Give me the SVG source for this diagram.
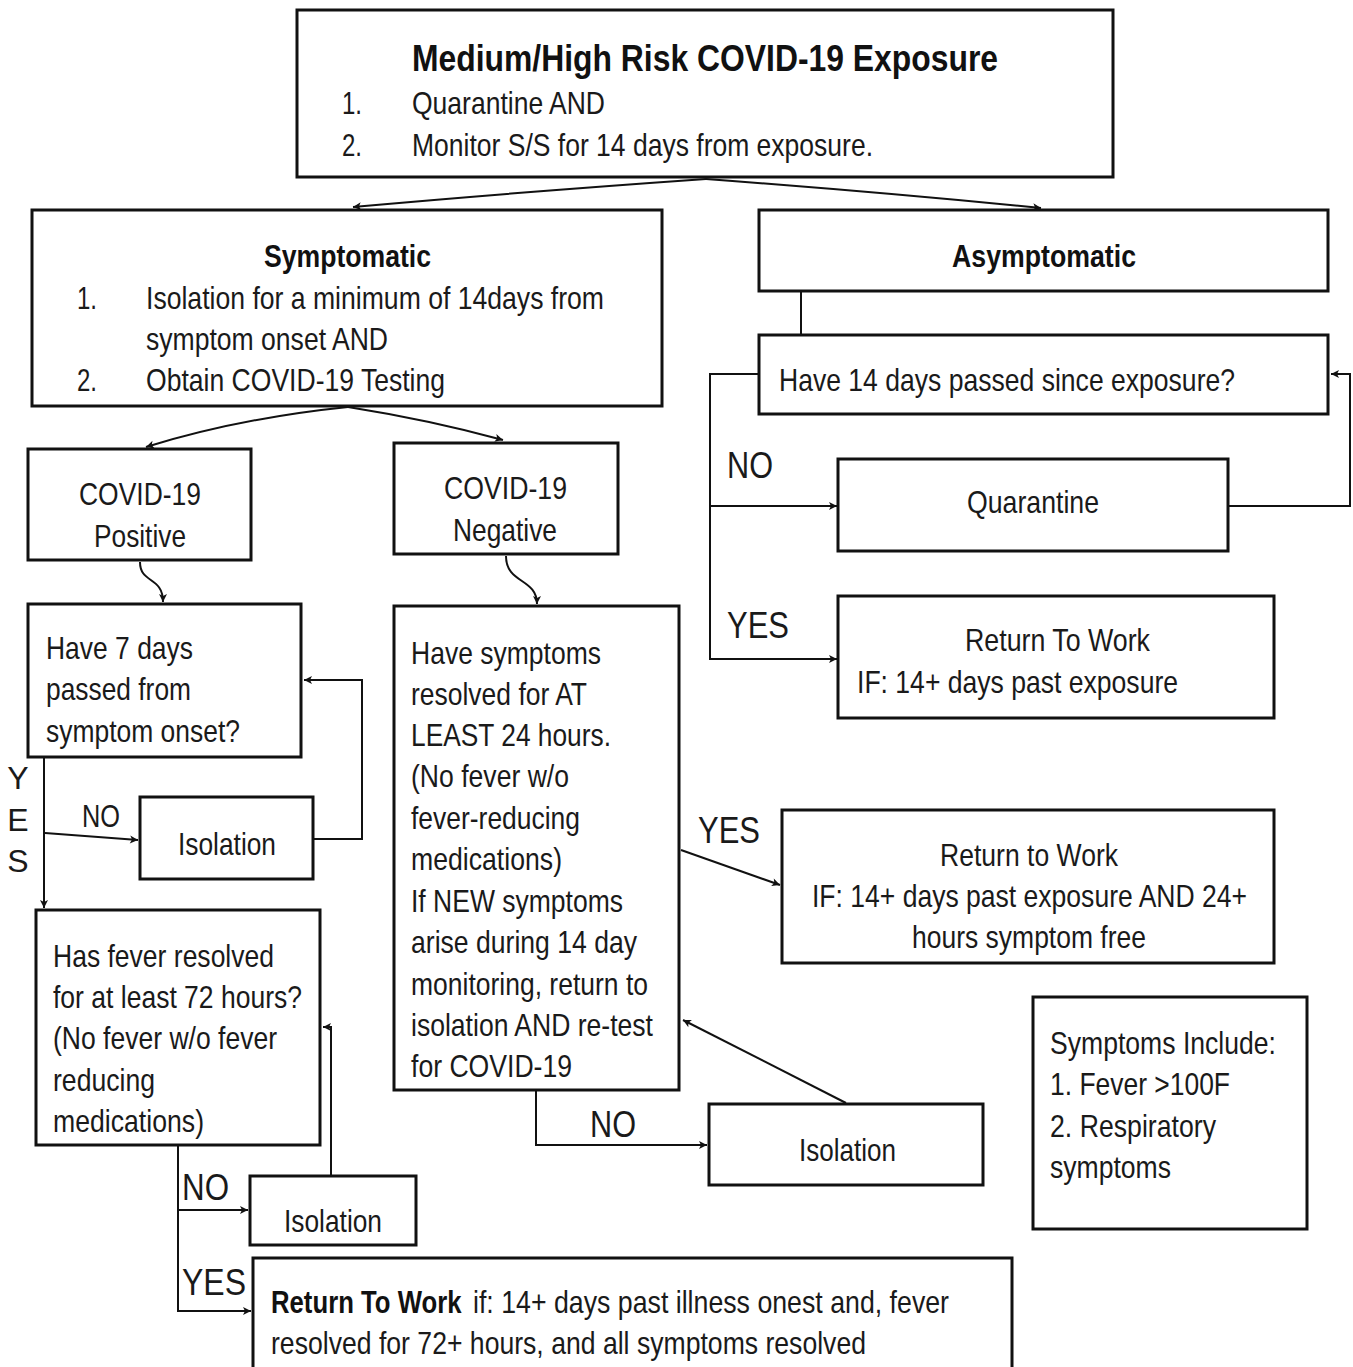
<svg xmlns="http://www.w3.org/2000/svg" width="1353" height="1367" viewBox="0 0 1353 1367">
<style>
.box{fill:#fff;stroke:#111;stroke-width:3}
.c{fill:none;stroke:#111;stroke-width:2}
.t{font-family:"Liberation Sans",Arial,sans-serif;font-size:32px;fill:#1a1a1a}
.b{font-weight:bold;fill:#111}
.l{font-size:36px}
</style>
<defs>
<marker id="ah" markerWidth="10" markerHeight="10" refX="9" refY="5" orient="auto" markerUnits="userSpaceOnUse">
<path d="M1,1 L9,5 L1,9 L3,5 Z" fill="#111"/>
</marker>
</defs>
<rect width="1353" height="1367" fill="#fff"/>

<g id="connectors">
<path class="c" d="M706,179 Q520,192 353,207" marker-end="url(#ah)"/>
<path class="c" d="M706,179 Q880,192 1041,208" marker-end="url(#ah)"/>
<path class="c" d="M348,407 Q240,418 146,447" marker-end="url(#ah)"/>
<path class="c" d="M348,407 Q430,420 503,440" marker-end="url(#ah)"/>
<path class="c" d="M140,562 C140,584 163,576 163,602" marker-end="url(#ah)"/>
<path class="c" d="M506,556 C506,584 537,578 537,604" marker-end="url(#ah)"/>
<path class="c" d="M801,292 L801,334"/>
<path class="c" d="M758,374 L710,374 L710,659 L837,659" marker-end="url(#ah)"/>
<path class="c" d="M710,506 L837,506" marker-end="url(#ah)"/>
<path class="c" d="M1229,506 L1350,506 L1350,374 L1331,374" marker-end="url(#ah)"/>
<path class="c" d="M44,758 L44,908" marker-end="url(#ah)"/>
<path class="c" d="M45,833 L138,840" marker-end="url(#ah)"/>
<path class="c" d="M314,839 L362,839 L362,680 L304,680" marker-end="url(#ah)"/>
<path class="c" d="M178,1146 L178,1311 L251,1311" marker-end="url(#ah)"/>
<path class="c" d="M178,1210 L248,1210" marker-end="url(#ah)"/>
<path class="c" d="M331,1175 L331,1027 L323,1027" marker-end="url(#ah)"/>
<path class="c" d="M681,850 L780,885" marker-end="url(#ah)"/>
<path class="c" d="M846,1103 L683,1020" marker-end="url(#ah)"/>
<path class="c" d="M536,1091 L536,1145 L707,1145" marker-end="url(#ah)"/>
</g>

<g id="exposure">
<rect class="box" x="297" y="10" width="816" height="167"/>
<text class="t b l" x="412" y="71" textLength="586" lengthAdjust="spacingAndGlyphs">Medium/High Risk COVID-19 Exposure</text>
<text class="t" x="342" y="114" textLength="20" lengthAdjust="spacingAndGlyphs">1.</text>
<text class="t" x="412" y="114" textLength="193" lengthAdjust="spacingAndGlyphs">Quarantine AND</text>
<text class="t" x="342" y="156" textLength="20" lengthAdjust="spacingAndGlyphs">2.</text>
<text class="t" x="412" y="156" textLength="461" lengthAdjust="spacingAndGlyphs">Monitor S/S for 14 days from exposure.</text>
</g>

<g id="symptomatic">
<rect class="box" x="32" y="210" width="630" height="196"/>
<text class="t b" x="264" y="267" textLength="167" lengthAdjust="spacingAndGlyphs">Symptomatic</text>
<text class="t" x="77" y="309" textLength="20" lengthAdjust="spacingAndGlyphs">1.</text>
<text class="t" x="146" y="309" textLength="458" lengthAdjust="spacingAndGlyphs">Isolation for a minimum of 14days from</text>
<text class="t" x="146" y="350" textLength="242" lengthAdjust="spacingAndGlyphs">symptom onset AND</text>
<text class="t" x="77" y="391" textLength="20" lengthAdjust="spacingAndGlyphs">2.</text>
<text class="t" x="146" y="391" textLength="299" lengthAdjust="spacingAndGlyphs">Obtain COVID-19 Testing</text>
</g>

<g id="asymptomatic">
<rect class="box" x="759" y="210" width="569" height="81"/>
<text class="t b" x="952" y="267" textLength="184" lengthAdjust="spacingAndGlyphs">Asymptomatic</text>
</g>

<g id="have14">
<rect class="box" x="759" y="335" width="569" height="79"/>
<text class="t" x="779" y="391" textLength="456" lengthAdjust="spacingAndGlyphs">Have 14 days passed since exposure?</text>
</g>

<g id="quarantine">
<rect class="box" x="838" y="459" width="390" height="92"/>
<text class="t" x="967" y="513" textLength="132" lengthAdjust="spacingAndGlyphs">Quarantine</text>
</g>

<g id="rtw-asym">
<rect class="box" x="838" y="596" width="436" height="122"/>
<text class="t" x="965" y="651" textLength="185" lengthAdjust="spacingAndGlyphs">Return To Work</text>
<text class="t" x="857" y="693" textLength="321" lengthAdjust="spacingAndGlyphs">IF: 14+ days past exposure</text>
</g>

<g id="labels-asym">
<text class="t l" x="727" y="478" textLength="46" lengthAdjust="spacingAndGlyphs">NO</text>
<text class="t l" x="727" y="638" textLength="62" lengthAdjust="spacingAndGlyphs">YES</text>
</g>

<g id="positive">
<rect class="box" x="28" y="449" width="223" height="111"/>
<text class="t" x="79" y="505" textLength="122" lengthAdjust="spacingAndGlyphs">COVID-19</text>
<text class="t" x="94" y="547" textLength="92" lengthAdjust="spacingAndGlyphs">Positive</text>
</g>

<g id="negative">
<rect class="box" x="394" y="443" width="224" height="111"/>
<text class="t" x="444" y="499" textLength="123" lengthAdjust="spacingAndGlyphs">COVID-19</text>
<text class="t" x="453" y="541" textLength="104" lengthAdjust="spacingAndGlyphs">Negative</text>
</g>

<g id="have7">
<rect class="box" x="28" y="604" width="273" height="153"/>
<text class="t" x="46" y="659" textLength="147" lengthAdjust="spacingAndGlyphs">Have 7 days</text>
<text class="t" x="46" y="700" textLength="145" lengthAdjust="spacingAndGlyphs">passed from</text>
<text class="t" x="46" y="742" textLength="194" lengthAdjust="spacingAndGlyphs">symptom onset?</text>
</g>

<g id="labels-left">
<text class="t" x="18" y="789" text-anchor="middle">Y</text>
<text class="t" x="18" y="831" text-anchor="middle">E</text>
<text class="t" x="18" y="872" text-anchor="middle">S</text>
<text class="t" x="82" y="827" textLength="38" lengthAdjust="spacingAndGlyphs">NO</text>
</g>

<g id="isolation-left">
<rect class="box" x="140" y="797" width="173" height="82"/>
<text class="t" x="178" y="855" textLength="98" lengthAdjust="spacingAndGlyphs">Isolation</text>
</g>

<g id="fever72">
<rect class="box" x="36" y="910" width="284" height="235"/>
<text class="t" x="53" y="967" textLength="221" lengthAdjust="spacingAndGlyphs">Has fever resolved</text>
<text class="t" x="53" y="1008" textLength="249" lengthAdjust="spacingAndGlyphs">for at least 72 hours?</text>
<text class="t" x="53" y="1049" textLength="224" lengthAdjust="spacingAndGlyphs">(No fever w/o fever</text>
<text class="t" x="53" y="1091" textLength="102" lengthAdjust="spacingAndGlyphs">reducing</text>
<text class="t" x="53" y="1132" textLength="151" lengthAdjust="spacingAndGlyphs">medications)</text>
</g>

<g id="labels-bottom">
<text class="t l" x="182" y="1200" textLength="47" lengthAdjust="spacingAndGlyphs">NO</text>
<text class="t l" x="182" y="1295" textLength="64" lengthAdjust="spacingAndGlyphs">YES</text>
</g>

<g id="isolation-bottom">
<rect class="box" x="250" y="1176" width="166" height="69"/>
<text class="t" x="284" y="1232" textLength="98" lengthAdjust="spacingAndGlyphs">Isolation</text>
</g>

<g id="rtw-positive">
<rect class="box" x="253" y="1258" width="759" height="112"/>
<text class="t b" transform="translate(271,1313) scale(0.804,1)" x="0" y="0">Return To Work</text>
<text class="t" x="473" y="1313" textLength="476" lengthAdjust="spacingAndGlyphs">if: 14+ days past illness onest and, fever</text>
<text class="t" x="271" y="1354" textLength="595" lengthAdjust="spacingAndGlyphs">resolved for 72+ hours, and all symptoms resolved</text>
</g>

<g id="symptoms-resolved">
<rect class="box" x="394" y="606" width="285" height="484"/>
<text class="t" x="411" y="664" textLength="190" lengthAdjust="spacingAndGlyphs">Have symptoms</text>
<text class="t" x="411" y="705" textLength="176" lengthAdjust="spacingAndGlyphs">resolved for AT</text>
<text class="t" x="411" y="746" textLength="200" lengthAdjust="spacingAndGlyphs">LEAST 24 hours.</text>
<text class="t" x="411" y="787" textLength="158" lengthAdjust="spacingAndGlyphs">(No fever w/o</text>
<text class="t" x="411" y="829" textLength="169" lengthAdjust="spacingAndGlyphs">fever-reducing</text>
<text class="t" x="411" y="870" textLength="151" lengthAdjust="spacingAndGlyphs">medications)</text>
<text class="t" x="411" y="912" textLength="212" lengthAdjust="spacingAndGlyphs">If NEW symptoms</text>
<text class="t" x="411" y="953" textLength="226" lengthAdjust="spacingAndGlyphs">arise during 14 day</text>
<text class="t" x="411" y="995" textLength="237" lengthAdjust="spacingAndGlyphs">monitoring, return to</text>
<text class="t" x="411" y="1036" textLength="242" lengthAdjust="spacingAndGlyphs">isolation AND re-test</text>
<text class="t" x="411" y="1077" textLength="161" lengthAdjust="spacingAndGlyphs">for COVID-19</text>
</g>

<g id="labels-mid">
<text class="t l" x="698" y="843" textLength="62" lengthAdjust="spacingAndGlyphs">YES</text>
<text class="t l" x="590" y="1137" textLength="46" lengthAdjust="spacingAndGlyphs">NO</text>
</g>

<g id="rtw-negative">
<rect class="box" x="782" y="810" width="492" height="153"/>
<text class="t" x="940" y="866" textLength="178" lengthAdjust="spacingAndGlyphs">Return to Work</text>
<text class="t" x="812" y="907" textLength="435" lengthAdjust="spacingAndGlyphs">IF: 14+ days past exposure AND 24+</text>
<text class="t" x="912" y="948" textLength="234" lengthAdjust="spacingAndGlyphs">hours symptom free</text>
</g>

<g id="isolation-mid">
<rect class="box" x="709" y="1104" width="274" height="81"/>
<text class="t" x="799" y="1161" textLength="97" lengthAdjust="spacingAndGlyphs">Isolation</text>
</g>

<g id="symptoms-include">
<rect class="box" x="1033" y="997" width="274" height="232"/>
<text class="t" x="1050" y="1054" textLength="226" lengthAdjust="spacingAndGlyphs">Symptoms Include:</text>
<text class="t" x="1050" y="1095" textLength="180" lengthAdjust="spacingAndGlyphs">1. Fever &gt;100F</text>
<text class="t" x="1050" y="1137" textLength="166" lengthAdjust="spacingAndGlyphs">2. Respiratory</text>
<text class="t" x="1050" y="1178" textLength="121" lengthAdjust="spacingAndGlyphs">symptoms</text>
</g>
</svg>
